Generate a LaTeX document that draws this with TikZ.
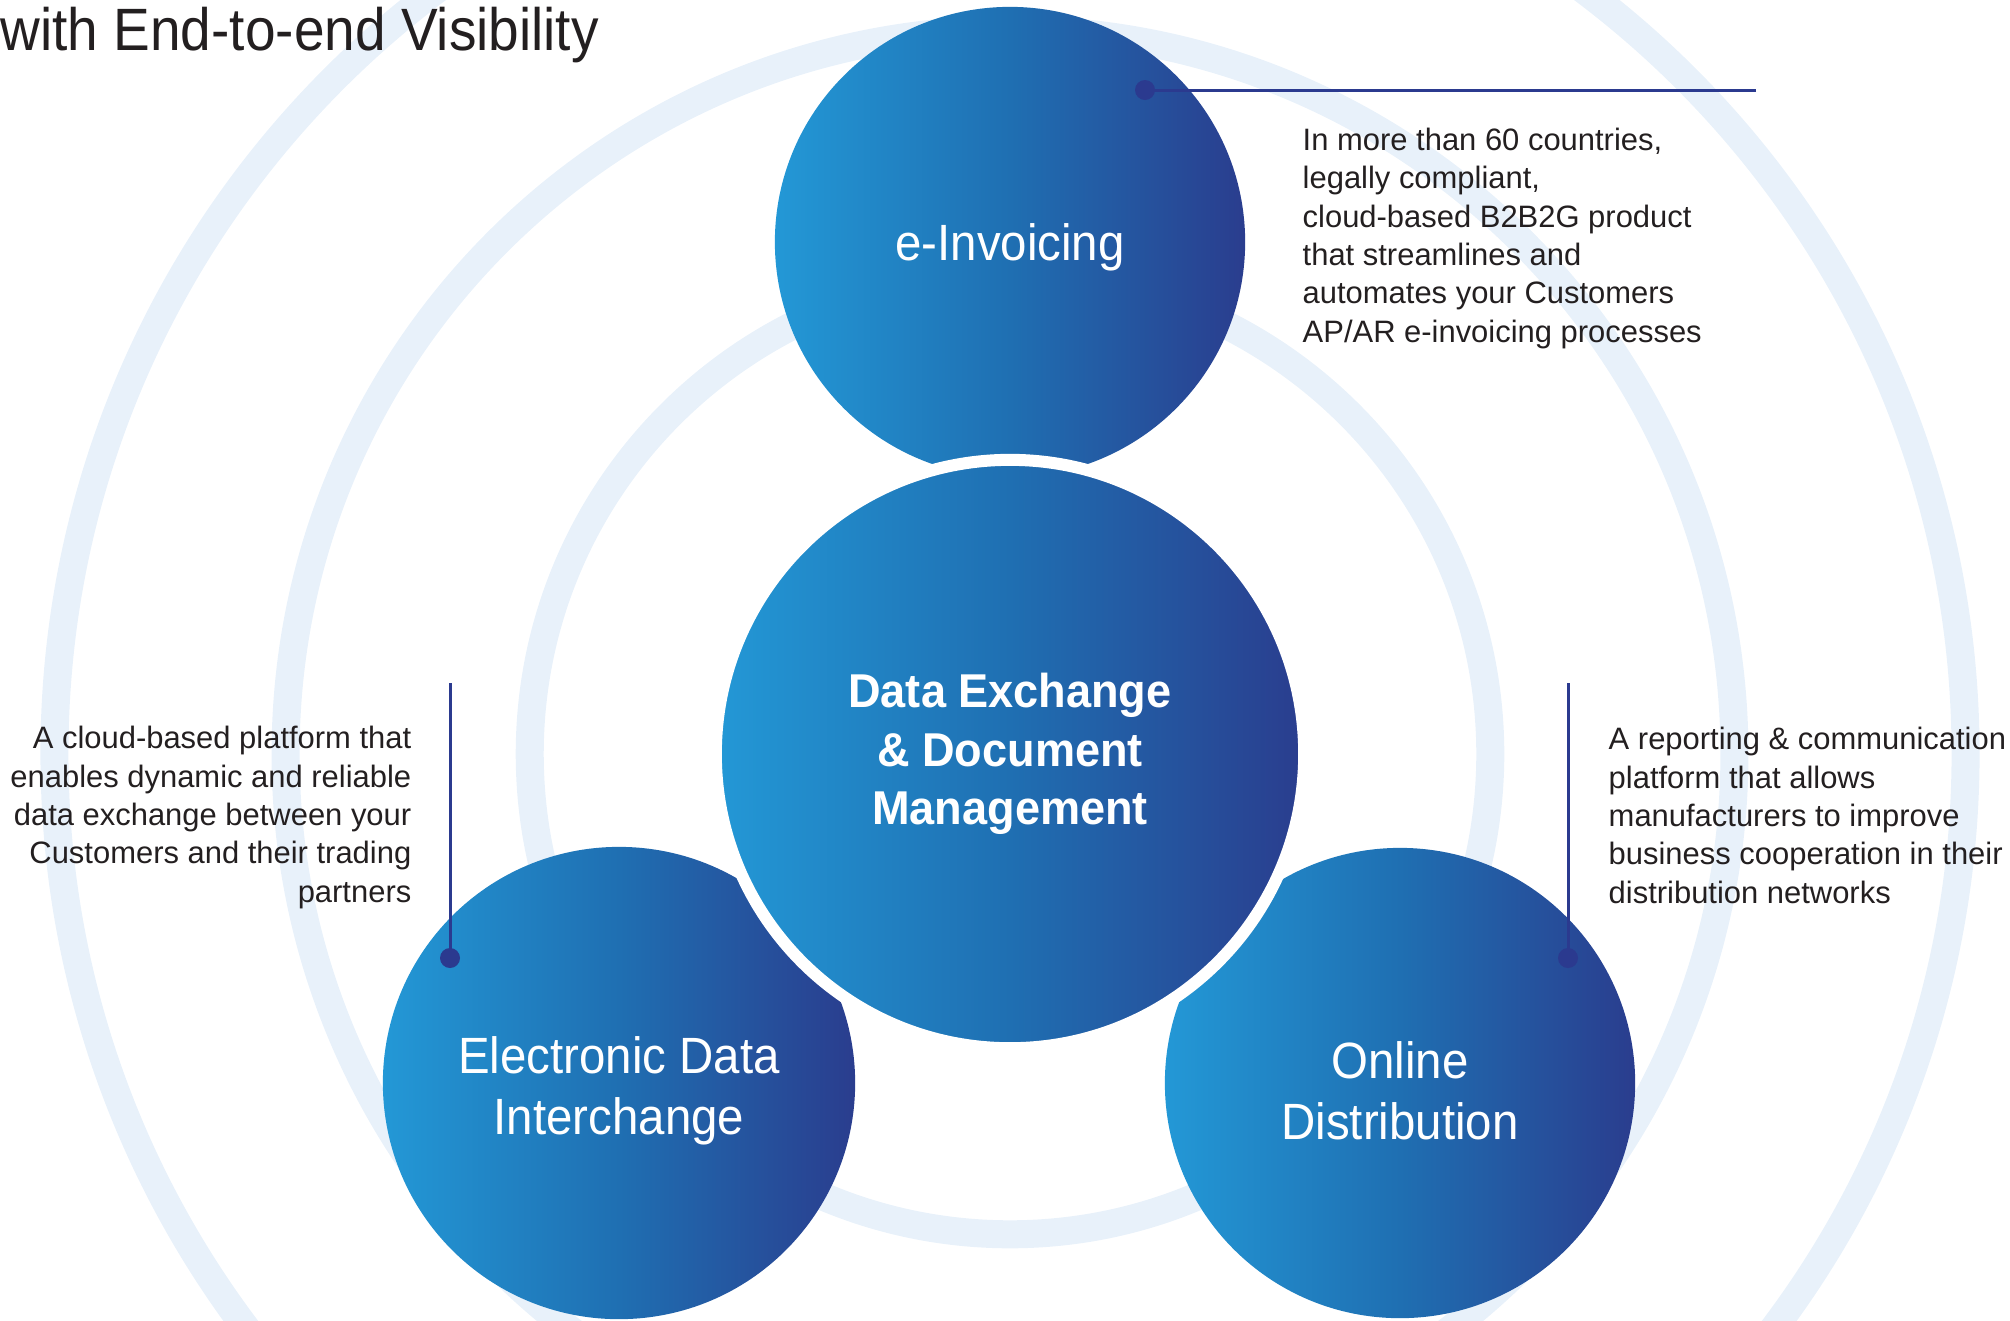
\documentclass[tikz,border=0pt]{standalone}
\usepackage{fontspec}
\setmainfont{Liberation Sans}
\newfontfamily\titlefont[FakeStretch=0.92]{Liberation Sans}
\newfontfamily\labelfont[FakeStretch=0.93]{Liberation Sans}
\newfontfamily\corefont[FakeStretch=0.95]{Liberation Sans Bold}
\usepackage{tikz}
\usetikzlibrary{calc}

\definecolor{ringblue}{HTML}{E8F1FA}
\definecolor{blueleft}{HTML}{2398D6}
\definecolor{bluemid}{HTML}{1F6FB2}
\definecolor{blueright}{HTML}{2A3D8E}
\definecolor{navy}{HTML}{2B3A8F}
\definecolor{inkgray}{HTML}{231F20}

\begin{document}
\begin{tikzpicture}[x=0.01cm, y=-0.01cm,
	ring/.style={draw=ringblue, line width=0.28cm},
	bubble/.style={circle, inner sep=0pt, left color=blueleft, right color=blueright, middle color=bluemid, text=white, align=center, font=\labelfont\fontsize{14.5pt}{17.3pt}\selectfont},
	dot/.style={circle, fill=navy, inner sep=0pt, minimum size=0.2cm},
	leader/.style={draw=navy, line width=0.85pt},
	blurb/.style={text=inkgray, inner sep=0pt, font=\fontsize{8.8pt}{10.9pt}\selectfont}]
	\path[use as bounding box] (0,0) rectangle (2010,1320);
	\clip (0,0) rectangle (2010,1320);
	\coordinate (mid) at (1010,754);
	% background rings
	\draw[ring] (mid) circle (4.8cm);
	\draw[ring] (mid) circle (7.24cm);
	\draw[ring] (mid) circle (9.55cm);
	% title
	\node[anchor=base west, inner sep=0pt, text=inkgray, font=\titlefont\fontsize{17pt}{20pt}\selectfont] (title) at (0,50) {with End-to-end Visibility};
	% satellites
	\node[bubble, minimum size=4.7cm, text depth=0pt] (inv) at (1010,242) {e-Invoicing};
	\node[bubble, minimum size=4.72cm] (edi) at (619,1083) {\rule{0pt}{0.53cm}Electronic Data\\Interchange};
	\node[bubble, minimum size=4.7cm] (od) at (1400,1083) {\rule{0pt}{0.53cm}Online\\Distribution};
	% centre, white rim cuts the others
	\node[bubble, draw=white, line width=0.12cm, minimum size=5.88cm, font=\corefont\fontsize{13.5pt}{16.7pt}\selectfont] (core) at (mid) {Data Exchange\\\& Document\\Management};
	% leaders
	\coordinate (invpin) at (1145,90);
	\coordinate (invend) at (1756,90);
	\draw[leader] (invend) -- (invpin);
	\node[dot] (invdot) at (invpin) {};
	\coordinate (edipin) at (450,958);
	\coordinate (ediend) at (450,683);
	\draw[leader] (ediend) -- (edipin);
	\node[dot] (edidot) at (edipin) {};
	\coordinate (odpin) at (1568,958);
	\coordinate (odend) at (1568,683);
	\draw[leader] (odend) -- (odpin);
	\node[dot] (oddot) at (odpin) {};
	% descriptions (base = last line)
	\node[blurb, anchor=base west, align=left] (invtext) at (1302,342) {In more than 60 countries,\\legally compliant,\\cloud-based B2B2G product\\that streamlines and\\automates your Customers\\AP/AR e-invoicing processes};
	\node[blurb, anchor=base east, align=right] (editext) at (412,902) {A cloud-based platform that\\enables dynamic and reliable\\data exchange between your\\Customers and their trading\\partners};
	\node[blurb, anchor=base west, align=left] (odtext) at (1608,903) {A reporting \& communication\\platform that allows\\manufacturers to improve\\business cooperation in their\\distribution networks};
\end{tikzpicture}
\end{document}
